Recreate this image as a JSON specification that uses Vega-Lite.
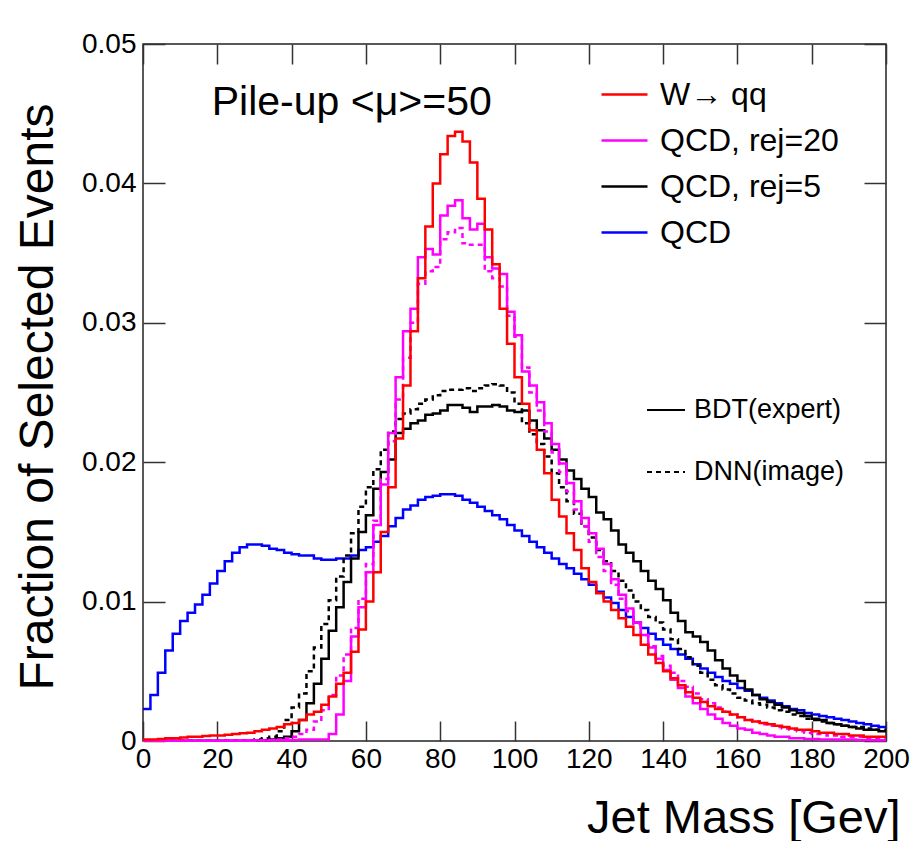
{
"$schema": "https://vega.github.io/schema/vega-lite/v6.json",
"width": 743, "height": 697,
"autosize": {"type": "none"},
"padding": {"left": 143, "top": 44, "right": 27, "bottom": 100},
"background": "white",
"config": {
  "view": {"stroke": "#222", "strokeWidth": 1.5},
  "font": "Liberation Sans",
  "axis": {"grid": false, "domain": false, "labelFont": "Liberation Sans", "labelFontSize": 28, "labelColor": "black", "tickColor": "#333", "tickWidth": 1.5, "labelFlush": false, "titleFont": "Liberation Sans", "titleColor": "black", "titleFontWeight": "normal"},
  "legend": {"labelFont": "Liberation Sans", "labelColor": "black", "labelLimit": 600}
},
"datasets": {
"w": [{"x":0,"y":0.0001},{"x":2,"y":0.0001},{"x":4,"y":0.00015},{"x":6,"y":0.0002},{"x":8,"y":0.0002},{"x":10,"y":0.00025},{"x":12,"y":0.0003},{"x":14,"y":0.0003},{"x":16,"y":0.00035},{"x":18,"y":0.0004},{"x":20,"y":0.0004},{"x":22,"y":0.00045},{"x":24,"y":0.0005},{"x":26,"y":0.00055},{"x":28,"y":0.0006},{"x":30,"y":0.0007},{"x":32,"y":0.0008},{"x":34,"y":0.0009},{"x":36,"y":0.001},{"x":38,"y":0.0012},{"x":40,"y":0.0013},{"x":42,"y":0.0015},{"x":44,"y":0.0019},{"x":46,"y":0.0021},{"x":48,"y":0.0026},{"x":50,"y":0.0032},{"x":52,"y":0.0041},{"x":54,"y":0.0049},{"x":56,"y":0.0064},{"x":58,"y":0.008},{"x":60,"y":0.01},{"x":62,"y":0.0121},{"x":64,"y":0.015},{"x":66,"y":0.0182},{"x":68,"y":0.0217},{"x":70,"y":0.0255},{"x":72,"y":0.0294},{"x":74,"y":0.0332},{"x":76,"y":0.0369},{"x":78,"y":0.04},{"x":80,"y":0.0421},{"x":82,"y":0.0434},{"x":84,"y":0.0437},{"x":86,"y":0.043},{"x":88,"y":0.0415},{"x":90,"y":0.0389},{"x":92,"y":0.0367},{"x":94,"y":0.0342},{"x":96,"y":0.031},{"x":98,"y":0.0285},{"x":100,"y":0.0261},{"x":102,"y":0.0242},{"x":104,"y":0.0223},{"x":106,"y":0.0209},{"x":108,"y":0.0192},{"x":110,"y":0.0173},{"x":112,"y":0.0161},{"x":114,"y":0.0149},{"x":116,"y":0.0137},{"x":118,"y":0.0124},{"x":120,"y":0.0114},{"x":122,"y":0.0106},{"x":124,"y":0.01},{"x":126,"y":0.0094},{"x":128,"y":0.0088},{"x":130,"y":0.0082},{"x":132,"y":0.0076},{"x":134,"y":0.0069},{"x":136,"y":0.0062},{"x":138,"y":0.0056},{"x":140,"y":0.005},{"x":142,"y":0.0045},{"x":144,"y":0.004},{"x":146,"y":0.0035},{"x":148,"y":0.0031},{"x":150,"y":0.0028},{"x":152,"y":0.0025},{"x":154,"y":0.0023},{"x":156,"y":0.0021},{"x":158,"y":0.0019},{"x":160,"y":0.0017},{"x":162,"y":0.0015},{"x":164,"y":0.0014},{"x":166,"y":0.0013},{"x":168,"y":0.0012},{"x":170,"y":0.0011},{"x":172,"y":0.001},{"x":174,"y":0.0009},{"x":176,"y":0.0008},{"x":178,"y":0.0008},{"x":180,"y":0.0007},{"x":182,"y":0.0006},{"x":184,"y":0.0006},{"x":186,"y":0.0005},{"x":188,"y":0.0005},{"x":190,"y":0.0004},{"x":192,"y":0.0004},{"x":194,"y":0.0003},{"x":196,"y":0.0003},{"x":198,"y":0.0003},{"x":200,"y":0.0003}],
"q": [{"x":0,"y":0.0023},{"x":2,"y":0.0033},{"x":4,"y":0.0049},{"x":6,"y":0.0065},{"x":8,"y":0.0077},{"x":10,"y":0.0086},{"x":12,"y":0.0092},{"x":14,"y":0.0098},{"x":16,"y":0.0105},{"x":18,"y":0.0113},{"x":20,"y":0.0122},{"x":22,"y":0.0129},{"x":24,"y":0.0135},{"x":26,"y":0.0139},{"x":28,"y":0.0141},{"x":30,"y":0.0141},{"x":32,"y":0.014},{"x":34,"y":0.0138},{"x":36,"y":0.0137},{"x":38,"y":0.0135},{"x":40,"y":0.0134},{"x":42,"y":0.0133},{"x":44,"y":0.0133},{"x":46,"y":0.0131},{"x":48,"y":0.013},{"x":50,"y":0.013},{"x":52,"y":0.0131},{"x":54,"y":0.0131},{"x":56,"y":0.0133},{"x":58,"y":0.0137},{"x":60,"y":0.0139},{"x":62,"y":0.0143},{"x":64,"y":0.0147},{"x":66,"y":0.0154},{"x":68,"y":0.016},{"x":70,"y":0.0166},{"x":72,"y":0.0169},{"x":74,"y":0.0173},{"x":76,"y":0.0175},{"x":78,"y":0.0176},{"x":80,"y":0.0177},{"x":82,"y":0.0177},{"x":84,"y":0.0176},{"x":86,"y":0.0173},{"x":88,"y":0.0171},{"x":90,"y":0.0168},{"x":92,"y":0.0165},{"x":94,"y":0.0162},{"x":96,"y":0.0159},{"x":98,"y":0.0155},{"x":100,"y":0.0151},{"x":102,"y":0.0147},{"x":104,"y":0.0143},{"x":106,"y":0.0139},{"x":108,"y":0.0135},{"x":110,"y":0.0131},{"x":112,"y":0.0127},{"x":114,"y":0.0124},{"x":116,"y":0.012},{"x":118,"y":0.0116},{"x":120,"y":0.0112},{"x":122,"y":0.0107},{"x":124,"y":0.0103},{"x":126,"y":0.0099},{"x":128,"y":0.0094},{"x":130,"y":0.0089},{"x":132,"y":0.0085},{"x":134,"y":0.0081},{"x":136,"y":0.0077},{"x":138,"y":0.0073},{"x":140,"y":0.0069},{"x":142,"y":0.0066},{"x":144,"y":0.0062},{"x":146,"y":0.0059},{"x":148,"y":0.0055},{"x":150,"y":0.0052},{"x":152,"y":0.0049},{"x":154,"y":0.0046},{"x":156,"y":0.0043},{"x":158,"y":0.0041},{"x":160,"y":0.0038},{"x":162,"y":0.0036},{"x":164,"y":0.0033},{"x":166,"y":0.0031},{"x":168,"y":0.0029},{"x":170,"y":0.0027},{"x":172,"y":0.0025},{"x":174,"y":0.0023},{"x":176,"y":0.0022},{"x":178,"y":0.002},{"x":180,"y":0.0019},{"x":182,"y":0.0018},{"x":184,"y":0.0017},{"x":186,"y":0.0016},{"x":188,"y":0.0015},{"x":190,"y":0.0014},{"x":192,"y":0.0013},{"x":194,"y":0.0012},{"x":196,"y":0.0011},{"x":198,"y":0.001},{"x":200,"y":0.001}],
"m20": [{"x":0,"y":0.00002},{"x":2,"y":0.00002},{"x":4,"y":0.00002},{"x":6,"y":0.00002},{"x":8,"y":0.00002},{"x":10,"y":0.00002},{"x":12,"y":0.00002},{"x":14,"y":0.00002},{"x":16,"y":0.00002},{"x":18,"y":0.00002},{"x":20,"y":0.00002},{"x":22,"y":0.00002},{"x":24,"y":0.00002},{"x":26,"y":0.00002},{"x":28,"y":0.00002},{"x":30,"y":0.00003},{"x":32,"y":0.00004},{"x":34,"y":0.00005},{"x":36,"y":0.00005},{"x":38,"y":0.00006},{"x":40,"y":0.00008},{"x":42,"y":0.0001},{"x":44,"y":0.0001},{"x":46,"y":0.0001},{"x":48,"y":0.0001},{"x":50,"y":0.0005},{"x":52,"y":0.0019},{"x":54,"y":0.0043},{"x":56,"y":0.0075},{"x":58,"y":0.0096},{"x":60,"y":0.0121},{"x":62,"y":0.0155},{"x":64,"y":0.0184},{"x":66,"y":0.0221},{"x":68,"y":0.0261},{"x":70,"y":0.0294},{"x":72,"y":0.031},{"x":74,"y":0.0347},{"x":76,"y":0.0353},{"x":78,"y":0.0349},{"x":80,"y":0.0377},{"x":82,"y":0.0384},{"x":84,"y":0.0388},{"x":86,"y":0.0375},{"x":88,"y":0.0367},{"x":90,"y":0.0371},{"x":92,"y":0.0347},{"x":94,"y":0.0339},{"x":96,"y":0.0335},{"x":98,"y":0.0308},{"x":100,"y":0.0291},{"x":102,"y":0.0265},{"x":104,"y":0.0255},{"x":106,"y":0.0243},{"x":108,"y":0.0228},{"x":110,"y":0.0213},{"x":112,"y":0.0199},{"x":114,"y":0.0185},{"x":116,"y":0.0172},{"x":118,"y":0.016},{"x":120,"y":0.0149},{"x":122,"y":0.0138},{"x":124,"y":0.0127},{"x":126,"y":0.0116},{"x":128,"y":0.0105},{"x":130,"y":0.0095},{"x":132,"y":0.0085},{"x":134,"y":0.0076},{"x":136,"y":0.0067},{"x":138,"y":0.0059},{"x":140,"y":0.0051},{"x":142,"y":0.0044},{"x":144,"y":0.0038},{"x":146,"y":0.0032},{"x":148,"y":0.0027},{"x":150,"y":0.0023},{"x":152,"y":0.0019},{"x":154,"y":0.0016},{"x":156,"y":0.0013},{"x":158,"y":0.0011},{"x":160,"y":0.0009},{"x":162,"y":0.0008},{"x":164,"y":0.0006},{"x":166,"y":0.0005},{"x":168,"y":0.0004},{"x":170,"y":0.0003},{"x":172,"y":0.0003},{"x":174,"y":0.0002},{"x":176,"y":0.0002},{"x":178,"y":0.00015},{"x":180,"y":0.00015},{"x":182,"y":0.0001},{"x":184,"y":0.0001},{"x":186,"y":0.0001},{"x":188,"y":0.0001},{"x":190,"y":0.0001},{"x":192,"y":0.00008},{"x":194,"y":0.00008},{"x":196,"y":0.00006},{"x":198,"y":0.00005},{"x":200,"y":0.00005}],
"m20d": [{"x":0,"y":0.00003},{"x":2,"y":0.00003},{"x":4,"y":0.00003},{"x":6,"y":0.00003},{"x":8,"y":0.00003},{"x":10,"y":0.00003},{"x":12,"y":0.00003},{"x":14,"y":0.00003},{"x":16,"y":0.00003},{"x":18,"y":0.00003},{"x":20,"y":0.00003},{"x":22,"y":0.00003},{"x":24,"y":0.00003},{"x":26,"y":0.00003},{"x":28,"y":0.00003},{"x":30,"y":0.00003},{"x":32,"y":0.00005},{"x":34,"y":0.00008},{"x":36,"y":0.0001},{"x":38,"y":0.0002},{"x":40,"y":0.0003},{"x":42,"y":0.0005},{"x":44,"y":0.0008},{"x":46,"y":0.0014},{"x":48,"y":0.0022},{"x":50,"y":0.0033},{"x":52,"y":0.0047},{"x":54,"y":0.0062},{"x":56,"y":0.0081},{"x":58,"y":0.0102},{"x":60,"y":0.0127},{"x":62,"y":0.0158},{"x":64,"y":0.0188},{"x":66,"y":0.0215},{"x":68,"y":0.0245},{"x":70,"y":0.0275},{"x":72,"y":0.03},{"x":74,"y":0.0328},{"x":76,"y":0.0337},{"x":78,"y":0.034},{"x":80,"y":0.036},{"x":82,"y":0.0365},{"x":84,"y":0.0368},{"x":86,"y":0.0357},{"x":88,"y":0.0356},{"x":90,"y":0.0356},{"x":92,"y":0.0337},{"x":94,"y":0.0332},{"x":96,"y":0.0326},{"x":98,"y":0.0305},{"x":100,"y":0.029},{"x":102,"y":0.0268},{"x":104,"y":0.025},{"x":106,"y":0.0237},{"x":108,"y":0.0222},{"x":110,"y":0.0207},{"x":112,"y":0.0193},{"x":114,"y":0.0179},{"x":116,"y":0.0166},{"x":118,"y":0.0154},{"x":120,"y":0.0143},{"x":122,"y":0.0132},{"x":124,"y":0.0122},{"x":126,"y":0.0112},{"x":128,"y":0.0102},{"x":130,"y":0.0093},{"x":132,"y":0.0084},{"x":134,"y":0.0076},{"x":136,"y":0.0068},{"x":138,"y":0.0061},{"x":140,"y":0.0054},{"x":142,"y":0.0049},{"x":144,"y":0.0043},{"x":146,"y":0.0039},{"x":148,"y":0.0034},{"x":150,"y":0.003},{"x":152,"y":0.0027},{"x":154,"y":0.0024},{"x":156,"y":0.0021},{"x":158,"y":0.0019},{"x":160,"y":0.0017},{"x":162,"y":0.0015},{"x":164,"y":0.0014},{"x":166,"y":0.0012},{"x":168,"y":0.0011},{"x":170,"y":0.001},{"x":172,"y":0.0009},{"x":174,"y":0.0008},{"x":176,"y":0.0007},{"x":178,"y":0.0006},{"x":180,"y":0.0005},{"x":182,"y":0.0005},{"x":184,"y":0.0004},{"x":186,"y":0.0004},{"x":188,"y":0.0003},{"x":190,"y":0.0003},{"x":192,"y":0.0003},{"x":194,"y":0.0002},{"x":196,"y":0.0002},{"x":198,"y":0.0002},{"x":200,"y":0.0002}],
"m5": [{"x":0,"y":0.00002},{"x":2,"y":0.00002},{"x":4,"y":0.00002},{"x":6,"y":0.00002},{"x":8,"y":0.00002},{"x":10,"y":0.00002},{"x":12,"y":0.00002},{"x":14,"y":0.00002},{"x":16,"y":0.00002},{"x":18,"y":0.00002},{"x":20,"y":0.00002},{"x":22,"y":0.00002},{"x":24,"y":0.00002},{"x":26,"y":0.00002},{"x":28,"y":0.00002},{"x":30,"y":0.00003},{"x":32,"y":0.00005},{"x":34,"y":0.0001},{"x":36,"y":0.0002},{"x":38,"y":0.0003},{"x":40,"y":0.0007},{"x":42,"y":0.0015},{"x":44,"y":0.0027},{"x":46,"y":0.0041},{"x":48,"y":0.0059},{"x":50,"y":0.0079},{"x":52,"y":0.0096},{"x":54,"y":0.0114},{"x":56,"y":0.0131},{"x":58,"y":0.015},{"x":60,"y":0.0162},{"x":62,"y":0.0181},{"x":64,"y":0.0193},{"x":66,"y":0.0202},{"x":68,"y":0.0221},{"x":70,"y":0.0224},{"x":72,"y":0.0228},{"x":74,"y":0.023},{"x":76,"y":0.0234},{"x":78,"y":0.0235},{"x":80,"y":0.0237},{"x":82,"y":0.0241},{"x":84,"y":0.0241},{"x":86,"y":0.0239},{"x":88,"y":0.0236},{"x":90,"y":0.024},{"x":92,"y":0.024},{"x":94,"y":0.0241},{"x":96,"y":0.024},{"x":98,"y":0.0237},{"x":100,"y":0.0236},{"x":102,"y":0.0237},{"x":104,"y":0.023},{"x":106,"y":0.0223},{"x":108,"y":0.0217},{"x":110,"y":0.0209},{"x":112,"y":0.0202},{"x":114,"y":0.0194},{"x":116,"y":0.0188},{"x":118,"y":0.0181},{"x":120,"y":0.0175},{"x":122,"y":0.0164},{"x":124,"y":0.0159},{"x":126,"y":0.0151},{"x":128,"y":0.0141},{"x":130,"y":0.0135},{"x":132,"y":0.0129},{"x":134,"y":0.0122},{"x":136,"y":0.0115},{"x":138,"y":0.0109},{"x":140,"y":0.0101},{"x":142,"y":0.0092},{"x":144,"y":0.0086},{"x":146,"y":0.0078},{"x":148,"y":0.0075},{"x":150,"y":0.0071},{"x":152,"y":0.0065},{"x":154,"y":0.0058},{"x":156,"y":0.0052},{"x":158,"y":0.0047},{"x":160,"y":0.0043},{"x":162,"y":0.0037},{"x":164,"y":0.0033},{"x":166,"y":0.003},{"x":168,"y":0.0028},{"x":170,"y":0.0026},{"x":172,"y":0.0024},{"x":174,"y":0.0022},{"x":176,"y":0.002},{"x":178,"y":0.0018},{"x":180,"y":0.0016},{"x":182,"y":0.0015},{"x":184,"y":0.0013},{"x":186,"y":0.0012},{"x":188,"y":0.0011},{"x":190,"y":0.001},{"x":192,"y":0.0009},{"x":194,"y":0.0008},{"x":196,"y":0.0008},{"x":198,"y":0.0007},{"x":200,"y":0.0007}],
"m5d": [{"x":0,"y":0.00003},{"x":2,"y":0.00003},{"x":4,"y":0.00003},{"x":6,"y":0.00003},{"x":8,"y":0.00003},{"x":10,"y":0.00003},{"x":12,"y":0.00003},{"x":14,"y":0.00003},{"x":16,"y":0.00003},{"x":18,"y":0.00003},{"x":20,"y":0.00003},{"x":22,"y":0.00003},{"x":24,"y":0.00003},{"x":26,"y":0.00003},{"x":28,"y":0.00005},{"x":30,"y":0.0001},{"x":32,"y":0.0002},{"x":34,"y":0.0003},{"x":36,"y":0.0007},{"x":38,"y":0.0015},{"x":40,"y":0.0024},{"x":42,"y":0.0034},{"x":44,"y":0.005},{"x":46,"y":0.0067},{"x":48,"y":0.0084},{"x":50,"y":0.0101},{"x":52,"y":0.0118},{"x":54,"y":0.0133},{"x":56,"y":0.0149},{"x":58,"y":0.0168},{"x":60,"y":0.0182},{"x":62,"y":0.0195},{"x":64,"y":0.0209},{"x":66,"y":0.0222},{"x":68,"y":0.0231},{"x":70,"y":0.0235},{"x":72,"y":0.0238},{"x":74,"y":0.0242},{"x":76,"y":0.0245},{"x":78,"y":0.0248},{"x":80,"y":0.0251},{"x":82,"y":0.0252},{"x":84,"y":0.0252},{"x":86,"y":0.0253},{"x":88,"y":0.0251},{"x":90,"y":0.0253},{"x":92,"y":0.0255},{"x":94,"y":0.0256},{"x":96,"y":0.0255},{"x":98,"y":0.025},{"x":100,"y":0.0242},{"x":102,"y":0.0228},{"x":104,"y":0.022},{"x":106,"y":0.0213},{"x":108,"y":0.0204},{"x":110,"y":0.0192},{"x":112,"y":0.0182},{"x":114,"y":0.0172},{"x":116,"y":0.0163},{"x":118,"y":0.0154},{"x":120,"y":0.0146},{"x":122,"y":0.0137},{"x":124,"y":0.0129},{"x":126,"y":0.0122},{"x":128,"y":0.0115},{"x":130,"y":0.0108},{"x":132,"y":0.01},{"x":134,"y":0.0094},{"x":136,"y":0.0089},{"x":138,"y":0.0085},{"x":140,"y":0.008},{"x":142,"y":0.0073},{"x":144,"y":0.0066},{"x":146,"y":0.006},{"x":148,"y":0.0054},{"x":150,"y":0.0049},{"x":152,"y":0.0044},{"x":154,"y":0.004},{"x":156,"y":0.0037},{"x":158,"y":0.0034},{"x":160,"y":0.0031},{"x":162,"y":0.0029},{"x":164,"y":0.0027},{"x":166,"y":0.0026},{"x":168,"y":0.0024},{"x":170,"y":0.0022},{"x":172,"y":0.0021},{"x":174,"y":0.0019},{"x":176,"y":0.0018},{"x":178,"y":0.0016},{"x":180,"y":0.0015},{"x":182,"y":0.0014},{"x":184,"y":0.0013},{"x":186,"y":0.0012},{"x":188,"y":0.0011},{"x":190,"y":0.001},{"x":192,"y":0.001},{"x":194,"y":0.0009},{"x":196,"y":0.0008},{"x":198,"y":0.0008},{"x":200,"y":0.0008}],
"note": [{"x": 18.5, "y": 0.0449, "t": "Pile-up <μ>=50"}]
},
"resolve": {"axis": {"x": "independent", "y": "independent"}},
"layer": [
{"data": {"name": "q"},
 "mark": {"type": "line", "interpolate": "step-after", "strokeWidth": 2.5},
 "encoding": {
  "x": {"field": "x", "type": "quantitative", "scale": {"domain": [0, 200], "nice": false},
        "axis": {"orient": "bottom", "values": [0,20,40,60,80,100,120,140,160,180,200], "format": "d", "tickSize": -20, "labelPadding": 24,
                 "title": "Jet Mass [Gev]", "titleFontSize": 47, "titleAnchor": null, "titleAlign": "right", "titleBaseline": "alphabetic", "titleX": 757, "titleY": 91}},
  "y": {"field": "y", "type": "quantitative", "scale": {"domain": [0, 0.05], "nice": false},
        "axis": {"orient": "left", "values": [0,0.01,0.02,0.03,0.04,0.05], "format": ".2~f", "tickSize": -22, "labelPadding": 29,
                 "title": "Fraction of Selected Events", "titleFontSize": 48, "titleAnchor": null, "titleAngle": -90, "titleAlign": "right", "titleBaseline": "alphabetic", "titleX": -91, "titleY": 59}},
  "color": {"datum": "QCD", "type": "nominal",
            "scale": {"domain": ["W→ qq", "QCD, rej=20", "QCD, rej=5", "QCD"], "range": ["#ff0000", "#ff00ff", "#000000", "#0000ff"]},
            "legend": {"orient": "none", "legendX": 457, "legendY": 26, "title": null, "symbolType": "stroke", "symbolSize": 2116, "symbolStrokeWidth": 2.5, "labelFontSize": 32, "labelOffset": 11, "rowPadding": 5, "padding": 0, "labelLimit": 600}},
  "strokeDash": {"datum": "BDT(expert)", "type": "nominal",
            "scale": {"domain": ["BDT(expert)", "DNN(image)"], "range": [[1, 0], [5, 4]]},
            "legend": {"orient": "none", "legendX": 503, "legendY": 346, "title": null, "symbolType": "stroke", "symbolSize": 1444, "symbolStrokeWidth": 2, "symbolStrokeColor": "black", "labelFontSize": 27, "labelOffset": 8, "rowPadding": 29, "padding": 0, "labelLimit": 600}}
 }},
{"data": {"name": "m5"},
 "mark": {"type": "line", "interpolate": "step-after", "strokeWidth": 2.5},
 "encoding": {
  "x": {"field": "x", "type": "quantitative", "axis": {"orient": "top", "values": [0,20,40,60,80,100,120,140,160,180,200], "labels": false, "tickSize": -20, "title": null}},
  "y": {"field": "y", "type": "quantitative", "axis": {"orient": "right", "values": [0,0.01,0.02,0.03,0.04,0.05], "labels": false, "tickSize": -22, "title": null}},
  "color": {"datum": "QCD, rej=5", "type": "nominal"},
  "strokeDash": {"datum": "BDT(expert)", "type": "nominal"}
 }},
{"data": {"name": "m5d"},
 "mark": {"type": "line", "interpolate": "step-after", "strokeWidth": 2.5},
 "encoding": {
  "x": {"field": "x", "type": "quantitative", "axis": null},
  "y": {"field": "y", "type": "quantitative", "axis": null},
  "color": {"datum": "QCD, rej=5", "type": "nominal"},
  "strokeDash": {"datum": "DNN(image)", "type": "nominal"}
 }},
{"data": {"name": "m20d"},
 "mark": {"type": "line", "interpolate": "step-after", "strokeWidth": 2.5},
 "encoding": {
  "x": {"field": "x", "type": "quantitative", "axis": null},
  "y": {"field": "y", "type": "quantitative", "axis": null},
  "color": {"datum": "QCD, rej=20", "type": "nominal"},
  "strokeDash": {"datum": "DNN(image)", "type": "nominal"}
 }},
{"data": {"name": "m20"},
 "mark": {"type": "line", "interpolate": "step-after", "strokeWidth": 2.5},
 "encoding": {
  "x": {"field": "x", "type": "quantitative", "axis": null},
  "y": {"field": "y", "type": "quantitative", "axis": null},
  "color": {"datum": "QCD, rej=20", "type": "nominal"},
  "strokeDash": {"datum": "BDT(expert)", "type": "nominal"}
 }},
{"data": {"name": "w"},
 "mark": {"type": "line", "interpolate": "step-after", "strokeWidth": 2.5},
 "encoding": {
  "x": {"field": "x", "type": "quantitative", "axis": null},
  "y": {"field": "y", "type": "quantitative", "axis": null},
  "color": {"datum": "W→ qq", "type": "nominal"},
  "strokeDash": {"datum": "BDT(expert)", "type": "nominal"}
 }},
{"data": {"name": "note"},
 "mark": {"type": "text", "align": "left", "baseline": "alphabetic", "fontSize": 41, "font": "Liberation Sans", "color": "black"},
 "encoding": {
  "x": {"field": "x", "type": "quantitative", "axis": null},
  "y": {"field": "y", "type": "quantitative", "axis": null},
  "text": {"field": "t"}
 }}
]
}
